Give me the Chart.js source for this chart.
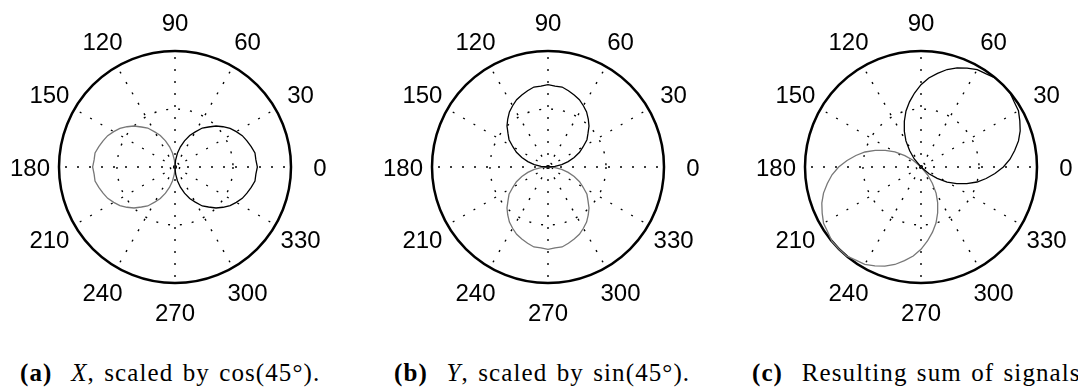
<!DOCTYPE html>
<html>
<head>
<meta charset="utf-8">
<script src="https://cdn.jsdelivr.net/npm/chart.js@4.4.0/dist/chart.umd.min.js"></script>
<style>
    html, body { margin: 0; padding: 0; background: #fff; }
    body { width: 1078px; height: 392px; position: relative; overflow: hidden; }
    .panel { position: absolute; top: 0; width: 350px; height: 340px; }
    .caption {
        position: absolute; top: 361px; white-space: nowrap;
        font-family: "Liberation Serif", "Times New Roman", serif;
        font-size: 25px; line-height: 24px; color: #000;
        letter-spacing: 1.1px; word-spacing: 2px;
    }
    .caption b { font-weight: bold; }
</style>
</head>
<body>
<div class="panel" style="left:0px"><canvas id="polarA" width="350" height="340"></canvas></div>
<div class="panel" style="left:373px"><canvas id="polarB" width="350" height="340"></canvas></div>
<div class="panel" style="left:746px"><canvas id="polarC" width="350" height="340"></canvas></div>

<div class="caption" style="left:20px"><b>(a)</b>&nbsp; <i>X</i>, scaled by cos(45°).</div>
<div class="caption" style="left:394px"><b>(b)</b>&nbsp; <i>Y</i>, scaled by sin(45°).</div>
<div class="caption" style="left:752px"><b>(c)</b>&nbsp; Resulting sum of signals</div>

<script>
// angles in degrees, counter-clockwise from the right
const angles = [
    0, 5, 10, 15, 20, 25, 30, 35, 40, 45, 50, 55, 60, 65, 70, 75, 80, 85,
    90, 95, 100, 105, 110, 115, 120, 125, 130, 135, 140, 145, 150, 155, 160, 165, 170, 175,
    180, 185, 190, 195, 200, 205, 210, 215, 220, 225, 230, 235, 240, 245, 250, 255, 260, 265,
    270, 275, 280, 285, 290, 295, 300, 305, 310, 315, 320, 325, 330, 335, 340, 345, 350, 355
];
const angleTicks = [0, 30, 60, 90, 120, 150, 180, 210, 240, 270, 300, 330];
const ringValues = [0, 0.04, 0.5, 1];

// (a) X lobe, scaled by cos(45)
const xPos = [
    0.71, 0.70, 0.70, 0.68, 0.66, 0.64, 0.61, 0.58, 0.54, 0.50, 0.45, 0.41, 0.35, 0.30, 0.24, 0.18, 0.12, 0.06,
    0, 0, 0, 0, 0, 0, 0, 0, 0, 0, 0, 0, 0, 0, 0, 0, 0, 0,
    0, 0, 0, 0, 0, 0, 0, 0, 0, 0, 0, 0, 0, 0, 0, 0, 0, 0,
    0, 0.06, 0.12, 0.18, 0.24, 0.30, 0.35, 0.41, 0.45, 0.50, 0.54, 0.58, 0.61, 0.64, 0.66, 0.68, 0.70, 0.70
];
const xNeg = [
    0, 0, 0, 0, 0, 0, 0, 0, 0, 0, 0, 0, 0, 0, 0, 0, 0, 0,
    0, 0.06, 0.12, 0.18, 0.24, 0.30, 0.35, 0.41, 0.45, 0.50, 0.54, 0.58, 0.61, 0.64, 0.66, 0.68, 0.70, 0.70,
    0.71, 0.70, 0.70, 0.68, 0.66, 0.64, 0.61, 0.58, 0.54, 0.50, 0.45, 0.41, 0.35, 0.30, 0.24, 0.18, 0.12, 0.06,
    0, 0, 0, 0, 0, 0, 0, 0, 0, 0, 0, 0, 0, 0, 0, 0, 0, 0
];

// (b) Y lobe, scaled by sin(45)
const yPos = [
    0, 0.06, 0.12, 0.18, 0.24, 0.30, 0.35, 0.41, 0.45, 0.50, 0.54, 0.58, 0.61, 0.64, 0.66, 0.68, 0.70, 0.70,
    0.71, 0.70, 0.70, 0.68, 0.66, 0.64, 0.61, 0.58, 0.54, 0.50, 0.45, 0.41, 0.35, 0.30, 0.24, 0.18, 0.12, 0.06,
    0, 0, 0, 0, 0, 0, 0, 0, 0, 0, 0, 0, 0, 0, 0, 0, 0, 0,
    0, 0, 0, 0, 0, 0, 0, 0, 0, 0, 0, 0, 0, 0, 0, 0, 0, 0
];
const yNeg = [
    0, 0, 0, 0, 0, 0, 0, 0, 0, 0, 0, 0, 0, 0, 0, 0, 0, 0,
    0, 0, 0, 0, 0, 0, 0, 0, 0, 0, 0, 0, 0, 0, 0, 0, 0, 0,
    0, 0.06, 0.12, 0.18, 0.24, 0.30, 0.35, 0.41, 0.45, 0.50, 0.54, 0.58, 0.61, 0.64, 0.66, 0.68, 0.70, 0.70,
    0.71, 0.70, 0.70, 0.68, 0.66, 0.64, 0.61, 0.58, 0.54, 0.50, 0.45, 0.41, 0.35, 0.30, 0.24, 0.18, 0.12, 0.06
];

// (c) sum of both, steered to 45 degrees
const sumPos = [
    0.71, 0.77, 0.82, 0.87, 0.91, 0.94, 0.97, 0.98, 1.0, 1.0, 1.0, 0.98, 0.97, 0.94, 0.91, 0.87, 0.82, 0.77,
    0.71, 0.64, 0.57, 0.50, 0.42, 0.34, 0.26, 0.17, 0.09, 0, 0, 0, 0, 0, 0, 0, 0, 0,
    0, 0, 0, 0, 0, 0, 0, 0, 0, 0, 0, 0, 0, 0, 0, 0, 0, 0,
    0, 0, 0, 0, 0, 0, 0, 0, 0, 0, 0.09, 0.17, 0.26, 0.34, 0.42, 0.50, 0.57, 0.64
];
const sumNeg = [
    0, 0, 0, 0, 0, 0, 0, 0, 0, 0, 0, 0, 0, 0, 0, 0, 0, 0,
    0, 0, 0, 0, 0, 0, 0, 0, 0, 0, 0.09, 0.17, 0.26, 0.34, 0.42, 0.50, 0.57, 0.64,
    0.71, 0.77, 0.82, 0.87, 0.91, 0.94, 0.97, 0.98, 1.0, 1.0, 1.0, 0.98, 0.97, 0.94, 0.91, 0.87, 0.82, 0.77,
    0.71, 0.64, 0.57, 0.50, 0.42, 0.34, 0.26, 0.17, 0.09, 0, 0, 0, 0, 0, 0, 0, 0, 0
];

const DOTS = [2, 10];

// radar walks clockwise from startAngle, polar angles go counter-clockwise
const toClockwise = arr => [arr[0], ...arr.slice(1).reverse()];

// angle labels centred a fixed distance outside the rim
const angleLabels = {
    id: 'angleLabels',
    afterDraw(chart) {
        const scale = chart.scales.r;
        const ctx = chart.ctx;
        ctx.save();
        ctx.font = '24px "Liberation Sans", Arial, sans-serif';
        ctx.fillStyle = '#000';
        ctx.textAlign = 'center';
        ctx.textBaseline = 'alphabetic';
        chart.data.labels.forEach((deg, i) => {
            if (!angleTicks.includes(deg)) return;
            const p = scale.getPointPosition(i, scale.drawingArea + 29);
            ctx.fillText(String(deg), p.x, p.y + 8.6);
        });
        ctx.restore();
    }
};

function makePolar(canvasId, mainLobe, backLobe) {
    const last = ringValues.length - 1;
    return new Chart(document.getElementById(canvasId), {
        type: 'radar',
        data: {
            labels: toClockwise(angles),
            datasets: [
                { data: toClockwise(mainLobe), borderColor: '#000000', borderWidth: 1.3 },
                { data: toClockwise(backLobe), borderColor: '#777777', borderWidth: 1.3 }
            ]
        },
        options: {
            responsive: false,
            animation: false,
            layout: { padding: { left: 59, right: 58, top: 51, bottom: 56 } },
            elements: {
                line: { fill: false, tension: 0 },
                point: { radius: 0, hoverRadius: 0 }
            },
            plugins: { legend: { display: false }, tooltip: { enabled: false } },
            scales: {
                r: {
                    min: 0,
                    max: 1,
                    startAngle: 90,
                    afterBuildTicks: (scale) => {
                        scale.ticks = ringValues.map(v => ({ value: v }));
                    },
                    ticks: { display: false },
                    pointLabels: { display: false },
                    grid: {
                        circular: true,
                        color: '#000000',
                        lineWidth: (c) => c.index === last ? 2.5 : 1.4
                    },
                    border: {
                        dash: (c) => c.index === last ? [] : DOTS
                    },
                    angleLines: {
                        color: (c) => angleTicks.includes(angles[(angles.length - c.index) % angles.length]) ? '#000000' : 'rgba(0,0,0,0)',
                        lineWidth: 1.4,
                        borderDash: DOTS
                    }
                }
            }
        },
        plugins: [angleLabels]
    });
}

makePolar('polarA', xPos, xNeg);
makePolar('polarB', yPos, yNeg);
makePolar('polarC', sumPos, sumNeg);
</script>
</body>
</html>
